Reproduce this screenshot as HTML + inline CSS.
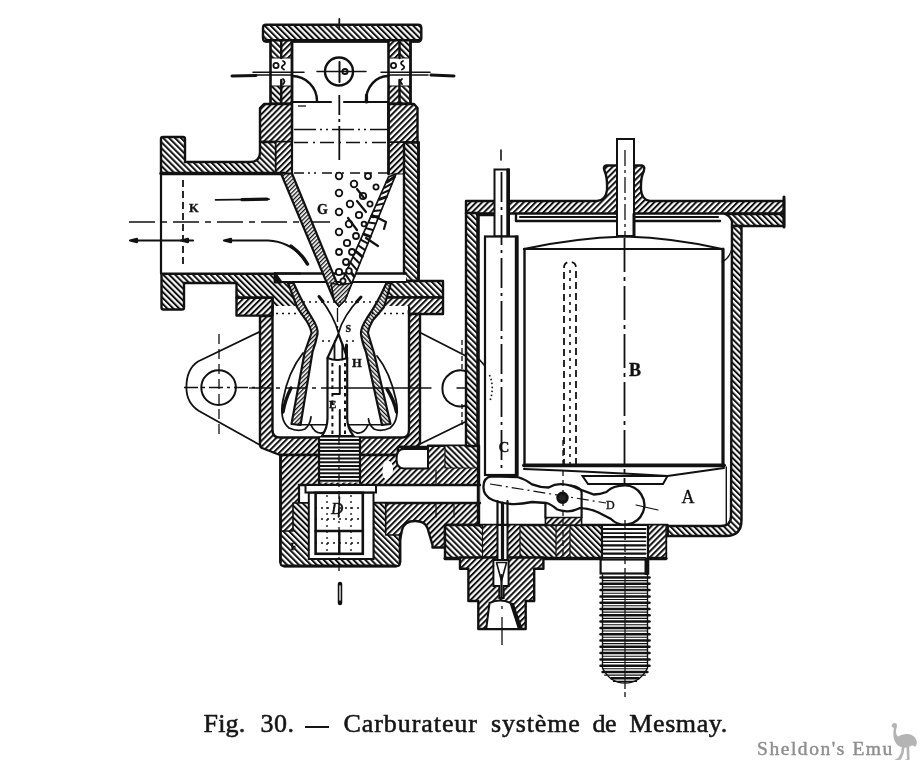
<!DOCTYPE html>
<html><head><meta charset="utf-8"><title>Fig. 30 - Carburateur systeme de Mesmay</title>
<style>
html,body{margin:0;padding:0;background:#fff;}
body{width:920px;height:760px;overflow:hidden;position:relative;font-family:"Liberation Serif",serif;}
svg{position:absolute;left:0;top:0;display:block;will-change:transform}
#cap,#wm{will-change:transform}
.o{stroke:#111;stroke-width:2.2;fill:none;stroke-linejoin:round;stroke-linecap:round}
.t{stroke:#111;stroke-width:1.2;fill:none;stroke-linecap:round}
.k{stroke:#111;stroke-width:2.8;fill:none;stroke-linecap:round;stroke-linejoin:round}
.w{fill:#fff}
.ha{fill:url(#ha);stroke:#111;stroke-width:2.4;stroke-linejoin:round}
.hb{fill:url(#hb);stroke:#111;stroke-width:2.4;stroke-linejoin:round}
.hc{fill:url(#hc);stroke:#111;stroke-width:1.6;stroke-linejoin:round}
.hd{fill:url(#hd);stroke:#111;stroke-width:1.6;stroke-linejoin:round}
.cl{stroke:#111;stroke-width:1.3;fill:none;stroke-dasharray:14 4 2 4}
.ds{stroke:#111;stroke-width:1.3;fill:none;stroke-dasharray:5 3}
.dt{stroke:#111;stroke-width:1.3;fill:none;stroke-dasharray:2 4}
.lb{font-family:"Liberation Serif",serif;font-weight:bold;fill:#111;stroke:#111;stroke-width:0.35px}
#cap{position:absolute;left:0;top:0;font-size:26px;color:#151515;white-space:nowrap}
#cap span{position:absolute;top:709px;line-height:30px;-webkit-text-stroke:0.55px #151515}
#wm{position:absolute;left:757px;top:737px;font-size:19.5px;font-weight:normal;color:#8e8e8e;-webkit-text-stroke:0.45px #8e8e8e;white-space:nowrap;letter-spacing:1.55px;line-height:24px}
</style></head><body>
<svg width="920" height="760" viewBox="0 0 920 760">
<defs>
<pattern id="ha" width="4.2" height="4.2" patternUnits="userSpaceOnUse" patternTransform="rotate(45)"><rect width="4.2" height="4.2" fill="#fff"/><rect width="2" height="4.2" fill="#111"/></pattern>
<pattern id="hb" width="4.2" height="4.2" patternUnits="userSpaceOnUse" patternTransform="rotate(-45)"><rect width="4.2" height="4.2" fill="#fff"/><rect width="2" height="4.2" fill="#111"/></pattern>
<pattern id="hc" width="3" height="3" patternUnits="userSpaceOnUse" patternTransform="rotate(45)"><rect width="3" height="3" fill="#fff"/><rect width="1.3" height="3" fill="#111"/></pattern>
<pattern id="hd" width="3" height="3" patternUnits="userSpaceOnUse" patternTransform="rotate(-45)"><rect width="3" height="3" fill="#fff"/><rect width="1.3" height="3" fill="#111"/></pattern>
</defs>

<path class="hb" d="M266,24.8 H418 Q421.3,24.8 421.3,28 V38 Q421.3,41.5 418,41.5 H266 Q263,41.5 263,38 V28 Q263,24.8 266,24.8 Z" />
<line class="k" x1="266" y1="40.8" x2="419" y2="40.8" style="stroke-width:3.4"/>
<rect class="w" x="270.5" y="41" width="21.5" height="62" />
<rect class="hb" x="270.5" y="41" width="10.75" height="17" style="stroke-width:1.2"/>
<rect class="ha" x="281.25" y="41" width="10.75" height="17" style="stroke-width:1.2"/>
<rect class="hb" x="270.5" y="86" width="10.75" height="17" style="stroke-width:1.2"/>
<rect class="ha" x="281.25" y="86" width="10.75" height="17" style="stroke-width:1.2"/>
<line class="k" x1="270.5" y1="41" x2="270.5" y2="103" style="stroke-width:2.6"/>
<line class="k" x1="292" y1="41" x2="292" y2="103" style="stroke-width:2.8"/>
<line class="k" x1="281.25" y1="41" x2="281.25" y2="58" style="stroke-width:2.4"/>
<line class="k" x1="281.25" y1="80" x2="281.25" y2="103" style="stroke-width:2.4"/>
<rect class="w" x="388.5" y="41" width="22" height="62" />
<rect class="ha" x="388.5" y="41" width="11" height="17" style="stroke-width:1.2"/>
<rect class="hb" x="399.5" y="41" width="11" height="17" style="stroke-width:1.2"/>
<rect class="ha" x="388.5" y="86" width="11" height="17" style="stroke-width:1.2"/>
<rect class="hb" x="399.5" y="86" width="11" height="17" style="stroke-width:1.2"/>
<line class="k" x1="388.5" y1="41" x2="388.5" y2="103" style="stroke-width:2.6"/>
<line class="k" x1="410.5" y1="41" x2="410.5" y2="103" style="stroke-width:2.8"/>
<line class="k" x1="399.5" y1="41" x2="399.5" y2="58" style="stroke-width:2.4"/>
<line class="k" x1="399.5" y1="80" x2="399.5" y2="103" style="stroke-width:2.4"/>
<circle class="o" cx="276" cy="65.5" r="2.6" style="stroke-width:1.8"/>
<circle class="o" cx="393.5" cy="65.5" r="2.6" style="stroke-width:1.8"/>
<path class="o" style="stroke-width:1.8" d="M283,61 q4,2 0,4.5 q-3,2 1,4 M283,79 q3,2 0,5 M403,61 q-4,2 0,4.5 q3,2 -1,4 M402,79 q-3,2 0,5"/>
<circle class="o" cx="339" cy="71.5" r="14" style="stroke-width:2.4"/>
<circle class="o" cx="345" cy="71.5" r="2.6" style="stroke-width:2"/>
<line class="o" x1="339.5" y1="62" x2="339.5" y2="82" style="stroke-width:2"/>
<line class="t" x1="253" y1="72.2" x2="304" y2="72.2" style="stroke-width:1.5"/>
<line class="t" x1="317" y1="71.5" x2="366" y2="71.5" style="stroke-width:1.5"/>
<line class="t" x1="381" y1="72.2" x2="430" y2="72.2" style="stroke-width:1.5"/>
<line class="t" x1="255" y1="75" x2="292" y2="75" style="stroke-width:1.5"/>
<line class="t" x1="389" y1="75" x2="428" y2="75" style="stroke-width:1.5"/>
<line class="k" x1="232" y1="76" x2="256" y2="75.5" style="stroke-width:3"/>
<line class="k" x1="431" y1="75" x2="454" y2="76" style="stroke-width:3"/>
<path class="o" d="M292,76 A25,25 0 0 1 317,101" style="stroke-width:2.4"/>
<path class="o" d="M388.5,76 A22,25 0 0 0 366,101" style="stroke-width:2.4"/>
<path class="k" d="M366.5,95 L366.5,102" style="stroke-width:3.2"/>
<line class="k" x1="292" y1="102" x2="331" y2="102" style="stroke-width:2.2"/>
<line class="k" x1="344" y1="102" x2="388" y2="102" style="stroke-width:2.2"/>
<line class="o" x1="339.3" y1="19" x2="339.3" y2="29" style="stroke-width:1.8"/>
<path class="cl" d="M339.3,95 V164" style="stroke-dasharray:20 4 3 4 34 4;stroke-width:1.8"/>
<polygon class="ha" points="264,104 292,104 292,142 260,142 260,108" />
<path class="hb" d="M260,142 H276 V173.5 H161 V139 Q161,137 163,137 H183 Q185,137 185,139 V162 H250 Q260,162 260,152 Z" />
<polygon class="ha" points="276,142 292,142 292,173.5 276,173.5" style="stroke-width:1.2"/>
<line class="k" x1="161" y1="173.5" x2="285" y2="173.5" style="stroke-width:3.4"/>
<line class="o" x1="292" y1="104" x2="292" y2="174" />
<polygon class="ha" points="388.5,104 414,104 417.5,108 417.5,142.5 388.5,142.5" />
<polygon class="ha" points="388.5,142.5 404,142.5 404,174 388.5,174" style="stroke-width:1.2"/>
<polygon class="hb" points="404,142.5 418.5,142.5 418.5,281 406,281 404,273" />
<line class="k" x1="388.5" y1="104" x2="388.5" y2="174" />
<line class="k" x1="418.5" y1="142.5" x2="418.5" y2="281" />
<line class="ds" x1="298" y1="106" x2="312" y2="106" style="stroke-dasharray:8 60"/>
<line class="cl" x1="294" y1="129.5" x2="387" y2="129.5" style="stroke-dasharray:22 4 2 4 2 4"/>
<line class="cl" x1="294" y1="142.5" x2="387" y2="142.5" style="stroke-dasharray:14 5 2 5"/>
<line class="cl" x1="294" y1="173" x2="392" y2="173" style="stroke-dasharray:10 4 2 4 2 6"/>
<line class="o" x1="161" y1="174.5" x2="161" y2="273.5" />
<line class="ds" x1="183" y1="180" x2="183" y2="268" style="stroke-width:1.8;stroke-dasharray:7 4"/>
<path class="cl" d="M129,222 H330" style="stroke-dasharray:26 6 6 6"/>
<line class="o" x1="215.6" y1="199.8" x2="269" y2="199.2" style="stroke-width:1.8"/>
<line class="k" x1="242" y1="199.6" x2="267" y2="199.2" style="stroke-width:3.2"/>
<line class="o" x1="132" y1="240.5" x2="193" y2="240.5" />
<path class="k" d="M130,240.5 l7,-1.6 v3.2 z M181,240.5 l7,-1.6 v3.2 z" style="stroke-width:2.2"/>
<path class="o" d="M226,240.5 H268 Q294,242 307,264" />
<path class="k" d="M224,240.5 l7,-1.7 v3.4 z" style="stroke-width:2.2"/>
<path class="k" d="M291,246 Q302,254 307.5,264" style="stroke-width:3.4"/>
<text class="lb" x="189" y="211.5" style="font-size:12.5px;font-weight:bold">K</text>
<text class="lb" x="317" y="214" style="font-size:14px;font-weight:bold">G</text>
<path class="hb" d="M161.5,273.8 H300 V307.5 H272.5 V297.8 H236.5 V283 H184 V307.5 Q184,309.5 182,309.5 H163.5 Q161.5,309.5 161.5,307.5 Z" />
<path class="ha" d="M236.5,297.8 H272.5 V315.6 H236.5 Z" />
<path class="hb" d="M380,281 H443 V297.5 H380 Z" />
<path class="ha" d="M380,297.5 H443 V314 H409 V307.5 H380 Z" />
<rect class="w" x="275" y="274.5" width="131" height="7" />
<line class="k" x1="275" y1="273.5" x2="406" y2="273.5" style="stroke-width:2.4"/>
<line class="o" x1="275" y1="282" x2="406" y2="282" />
<path class="k" d="M275,273.5 V282 L281,282 Z" style="fill:#111"/>
<path class="ha" d="M260,316 H272.5 V307.5 H409 V314 H420 V441 Q420,447 414,447 H398 V455 H280 V455 L262,448 Q260,447 260,444 Z  M272.5,307.5 V430 Q272.5,437.5 280,437.5 H402 Q409,437.5 409,430 V307.5 Z" fill-rule="evenodd"/>
<rect class="w" x="274" y="306" width="134" height="4" />
<polygon class="w" points="293,283 387,283 374,307 361,332 317,332 304,307" />
<polygon class="hc" points="281,173.5 292,173.5 338.5,287 339,306 334,300" style="stroke-width:2.2"/>
<polygon class="w" points="396,174 388.5,177 339.5,287 339,306 345,300" style="stroke:#111;stroke-width:1.7"/>
<line class="o" x1="386.953" y1="181.974" x2="394.389" y2="176.979" style="stroke-width:2.8"/>
<line class="o" x1="384.374" y1="187.763" x2="391.705" y2="183.611" style="stroke-width:2"/>
<line class="o" x1="381.795" y1="193.553" x2="389.021" y2="190.242" style="stroke-width:2"/>
<line class="o" x1="379.216" y1="199.342" x2="386.337" y2="196.874" style="stroke-width:2.8"/>
<line class="o" x1="376.637" y1="205.132" x2="383.653" y2="203.505" style="stroke-width:2"/>
<line class="o" x1="374.058" y1="210.921" x2="380.968" y2="210.137" style="stroke-width:2"/>
<line class="o" x1="371.479" y1="216.711" x2="378.284" y2="216.768" style="stroke-width:2.8"/>
<line class="o" x1="368.9" y1="222.5" x2="375.6" y2="223.4" style="stroke-width:2"/>
<line class="o" x1="366.321" y1="228.289" x2="372.916" y2="230.032" style="stroke-width:2"/>
<line class="o" x1="363.742" y1="234.079" x2="370.232" y2="236.663" style="stroke-width:2.8"/>
<line class="o" x1="361.163" y1="239.868" x2="367.547" y2="243.295" style="stroke-width:2"/>
<line class="o" x1="358.584" y1="245.658" x2="364.863" y2="249.926" style="stroke-width:2"/>
<line class="o" x1="356.005" y1="251.447" x2="362.179" y2="256.558" style="stroke-width:2.8"/>
<line class="o" x1="353.426" y1="257.237" x2="359.495" y2="263.189" style="stroke-width:2"/>
<line class="o" x1="350.847" y1="263.026" x2="356.811" y2="269.821" style="stroke-width:2"/>
<line class="o" x1="348.268" y1="268.816" x2="354.126" y2="276.453" style="stroke-width:2.8"/>
<line class="o" x1="345.689" y1="274.605" x2="351.442" y2="283.084" style="stroke-width:2"/>
<line class="o" x1="343.111" y1="280.395" x2="348.758" y2="289.716" style="stroke-width:2"/>
<line class="o" x1="340.532" y1="286.184" x2="346.074" y2="296.347" style="stroke-width:2.8"/>
<polygon class="hc" points="339.5,285 352,283 345,300 339,306 334,300 331,283" style="stroke-width:1.6"/>
<circle class="o" cx="339" cy="176" r="3.3" style="stroke-width:1.8;fill:#fff"/>
<circle class="o" cx="339" cy="193" r="3.3" style="stroke-width:1.8;fill:#fff"/>
<circle class="o" cx="339" cy="212" r="3.3" style="stroke-width:1.8;fill:#fff"/>
<circle class="o" cx="339" cy="232" r="3.3" style="stroke-width:1.8;fill:#fff"/>
<circle class="o" cx="339" cy="252" r="3" style="stroke-width:1.8;fill:#fff"/>
<circle class="o" cx="339" cy="272" r="3.2" style="stroke-width:1.8;fill:#fff"/>
<circle class="o" cx="368" cy="176" r="3" style="stroke-width:1.8;fill:#fff"/>
<circle class="o" cx="354" cy="184" r="3.3" style="stroke-width:1.8;fill:#fff"/>
<circle class="o" cx="376" cy="187" r="2.6" style="stroke-width:1.8;fill:#fff"/>
<circle class="o" cx="363" cy="196" r="3.2" style="stroke-width:1.8;fill:#fff"/>
<circle class="o" cx="350" cy="204" r="3.3" style="stroke-width:1.8;fill:#fff"/>
<circle class="o" cx="370" cy="204" r="2.6" style="stroke-width:1.8;fill:#fff"/>
<circle class="o" cx="359" cy="215" r="3.2" style="stroke-width:1.8;fill:#fff"/>
<circle class="o" cx="349" cy="224" r="3.3" style="stroke-width:1.8;fill:#fff"/>
<circle class="o" cx="364" cy="224" r="2.4" style="stroke-width:1.8;fill:#fff"/>
<circle class="o" cx="356" cy="236" r="3" style="stroke-width:1.8;fill:#fff"/>
<circle class="o" cx="347" cy="243" r="3.2" style="stroke-width:1.8;fill:#fff"/>
<circle class="o" cx="352" cy="252" r="3" style="stroke-width:1.8;fill:#fff"/>
<circle class="o" cx="346" cy="262" r="3" style="stroke-width:1.8;fill:#fff"/>
<circle class="o" cx="343" cy="281" r="2.6" style="stroke-width:1.8;fill:#fff"/>
<circle class="o" cx="349" cy="271" r="2.8" style="stroke-width:1.8;fill:#fff"/>
<path class="o" d="M357,189 L364,198 M357,201 L366,212 M348,218 L357,230 M372,215 L386,222 L384,229 M366,238 L378,246" />
<path class="hc" d="M288,283 L293.5,283 Q303,304 312,318 Q318.5,328 317.5,334 Q316,342 312.5,352 L300.5,425 L291.5,424 L304.5,353 Q309,340 311.5,333 Q311,328 306,320 Q300,312 297,307 Z" style="stroke-width:2.2"/>
<path class="hd" d="M391,283 L386.5,283 Q377,304 367,318 Q360.5,328 361,334 Q362,342 366,352 L382,425 L390.5,424 L374,353 Q370,340 368,333 Q368.5,328 373,320 Q380,312 384,307 Z" style="stroke-width:2.2"/>
<path class="o" d="M303,353 Q288,372 283,400 Q279,420 289,428 Q298,432 305,429 Q310,425 311,417" style="stroke-width:1.8"/>
<path class="o" d="M377,356 Q390,372 396,400 Q400,420 390,428 Q381,432 374,429 Q369,425 368.5,419" style="stroke-width:1.8"/>
<path class="k" d="M291,388 Q285,400 283,412" style="stroke-width:3.4"/>
<path class="k" d="M387,389 Q394,400 396.5,412" style="stroke-width:3.4"/>
<path class="o" d="M311,425 Q315,434 322,433 Q328,431 329,426 M368,425 Q364,434 357,433 Q351,431 349,426" style="stroke-width:1.8"/>
<line class="o" x1="298" y1="424.7" x2="327" y2="424.7" style="stroke-width:1.6"/>
<line class="o" x1="349" y1="424.7" x2="383" y2="424.7" style="stroke-width:1.6"/>
<path class="w" d="M322,436 Q327.5,428 327.5,418 V358 L333,346 L338.5,334 L343,346 L347.2,358 V418 Q347.2,428 353.5,436 Z" style="stroke:#111;stroke-width:2.2"/>
<path class="o" d="M327.5,358 Q337,362 347.2,358" style="stroke-width:2"/>
<path class="o" d="M334.5,344 V359 M342.3,344 V359" style="stroke-width:1.8"/>
<line class="k" x1="346.5" y1="345" x2="346.5" y2="358" style="stroke-width:3"/>
<line class="dt" x1="332.4" y1="363" x2="332.4" y2="434" style="stroke-width:2;stroke-dasharray:3.5 4"/>
<line class="dt" x1="345" y1="363" x2="345" y2="434" style="stroke-width:2;stroke-dasharray:3.5 4"/>
<path class="o" d="M339.8,366 V394 H333" style="stroke-width:2"/>
<line class="o" x1="339.8" y1="410" x2="339.8" y2="436" style="stroke-width:2"/>
<path class="o" d="M320,298 Q334,316 338.5,333 M360,298 Q343,316 338.5,333" style="stroke-width:1.8"/>
<path class="k" d="M319,296.5 l4,5 M361,297 l-4.5,5" style="stroke-width:3"/>
<line class="dt" x1="303" y1="302" x2="377" y2="302" />
<line class="dt" x1="276" y1="313.5" x2="308" y2="313.5" />
<line class="dt" x1="372" y1="313.5" x2="406" y2="313.5" />
<line class="dt" x1="322" y1="341" x2="356" y2="341" />
<path class="cl" d="M337.5,308 V330" />
<path class="cl" d="M184,387.5 H262" style="stroke-dasharray:14 4 3 4"/>
<path class="cl" d="M249,388 H345" style="stroke-dasharray:22 5 4 5"/>
<path class="t" d="M347,388 H431 M457,388 H466 M494,388 H517" style="stroke-width:1.4"/>
<path class="cl" d="M219,334 V436" style="stroke-dasharray:10 5"/>
<path class="o" d="M260,331.6 L198,361.5 Q186.4,369 186.4,387.5 Q186.4,403 199,411 L260,445" style="stroke-width:1.8"/>
<circle class="o" cx="218.6" cy="387.6" r="17.3" style="stroke-width:2"/>
<path class="o" d="M420,332.5 L466,356 M420,444 L466,421.5" style="stroke-width:1.8"/>
<path class="o" d="M466,371.3 A18,18 0 1 0 466,405.5" style="stroke-width:2"/>
<line class="ds" x1="462" y1="340" x2="462" y2="372" />
<line class="ds" x1="462" y1="404" x2="462" y2="428" />
<text class="lb" x="352" y="367" style="font-size:12.5px;font-weight:bold">H</text>
<text class="lb" x="329" y="408" style="font-size:11px;font-weight:bold">E</text>
<text class="lb" x="345.5" y="332" style="font-size:10px;font-weight:bold">S</text>
<path class="ha" d="M280.5,455 H398 V447 H428 V445.7 H479 V525 H445 V547.5 H432.5 V545 L427.5,528 Q425,521 415,521 Q404,521 402,530 L400,540 V562 Q400,566 397,566 H284 Q280.5,566 280.5,562 Z" />
<polygon class="hb" points="445,445.7 479,445.7 479,468 445,468" style="stroke-width:1.2"/>
<rect class="w" x="319" y="437.5" width="41" height="45" />
<line class="o" x1="319" y1="440" x2="360" y2="440" style="stroke-width:2"/>
<line class="o" x1="319" y1="443.7" x2="360" y2="443.7" style="stroke-width:2"/>
<line class="o" x1="319" y1="447.4" x2="360" y2="447.4" style="stroke-width:2"/>
<line class="o" x1="319" y1="451.1" x2="360" y2="451.1" style="stroke-width:2"/>
<line class="o" x1="319" y1="454.8" x2="360" y2="454.8" style="stroke-width:2"/>
<line class="o" x1="319" y1="458.5" x2="360" y2="458.5" style="stroke-width:2"/>
<line class="o" x1="319" y1="462.2" x2="360" y2="462.2" style="stroke-width:2"/>
<line class="o" x1="319" y1="465.9" x2="360" y2="465.9" style="stroke-width:2"/>
<line class="o" x1="319" y1="469.6" x2="360" y2="469.6" style="stroke-width:2"/>
<line class="o" x1="319" y1="473.3" x2="360" y2="473.3" style="stroke-width:2"/>
<line class="o" x1="319" y1="477" x2="360" y2="477" style="stroke-width:2"/>
<line class="o" x1="319" y1="480.7" x2="360" y2="480.7" style="stroke-width:2"/>
<line class="o" x1="319" y1="437.5" x2="319" y2="483" />
<line class="o" x1="360" y1="437.5" x2="360" y2="483" />
<path class="w" d="M404,449 H428 V468.5 H404 Q396.5,468.5 396.5,459 Q396.5,449 404,449 Z" style="stroke:#111;stroke-width:2"/>
<path class="w" d="M384,462 Q390,458 393,466 Q394,476 386,480 Q380,476 384,462 Z" />
<rect class="w" x="299" y="485" width="181" height="18" />
<line class="k" x1="299" y1="485" x2="480" y2="485" style="stroke-width:2.4"/>
<line class="k" x1="372.5" y1="503" x2="480" y2="503" style="stroke-width:2.4"/>
<line class="o" x1="299" y1="485" x2="299" y2="503" />
<line class="o" x1="299" y1="503" x2="307.5" y2="503" />
<rect class="w" x="305.5" y="485" width="70.5" height="7.5" style="stroke:#111;stroke-width:2"/>
<path class="hb" d="M280.5,531 H293 V503 H308.8 V559 H373.5 V503 H385.7 V535 H400 V562 Q400,566 396,566 H284.5 Q280.5,566 280.5,562 Z" style="stroke-width:1.6"/>
<line class="k" x1="280.5" y1="455" x2="280.5" y2="562" style="stroke-width:2.6"/>
<line class="k" x1="284" y1="566" x2="396" y2="566" style="stroke-width:2.8"/>
<line class="k" x1="400" y1="535" x2="400" y2="562" style="stroke-width:2.6"/>
<rect class="w" x="308.8" y="492.8" width="64.7" height="66.2" style="stroke:#111;stroke-width:2"/>
<rect class="w" x="315.6" y="492.8" width="47.2" height="61" style="stroke:#111;stroke-width:2.6"/>
<line class="o" x1="315.6" y1="531" x2="362.8" y2="531" style="stroke-width:2.4"/>
<line class="o" x1="339.3" y1="531" x2="339.3" y2="554" style="stroke-width:2.4"/>
<line class="dt" x1="315" y1="508" x2="364" y2="508" />
<line class="dt" x1="315" y1="519" x2="364" y2="519" />
<line class="dt" x1="315" y1="543" x2="364" y2="543" />
<line class="dt" x1="327" y1="495" x2="327" y2="553" />
<line class="dt" x1="351" y1="495" x2="351" y2="553" />
<path class="cl" d="M339,437 V575" style="stroke-dasharray:8 4 2 4"/>
<line class="k" x1="340" y1="584" x2="340" y2="603" style="stroke-width:4.5"/>
<line class="t" x1="340" y1="586" x2="340" y2="600" style="stroke:#fff;stroke-width:1.3"/>
<text class="lb" x="290.5" y="549.5" style="font-size:10px;font-weight:bold">F</text>
<text class="lb" x="331" y="514" font-style="italic" style="font-weight:normal;font-size:17px">D</text>
<line class="o" x1="339.5" y1="497" x2="338.5" y2="517" style="stroke-width:1.6"/>
<line class="t" x1="436" y1="505" x2="436" y2="517" />
<line class="t" x1="454" y1="505" x2="454" y2="517" />
<line class="t" x1="436" y1="470" x2="436" y2="484" />
<path class="ha" d="M466,201 H597 Q606,200 607,190 Q607.5,178 605,172 Q602.5,166 606,165.5 H642 Q645.5,166 643.5,172 Q640.5,178 641,190 Q642,200 650,201 H784 V213.5 H466 Z" />
<path class="hb" d="M725,214 H784 V226 H741 V226 H732 V221 Q730,216 725,214 Z" />
<path class="hb" d="M466,213 H477.5 V446 H466 Z" />
<path class="hb" d="M732,226 H741.5 V520 Q741.5,536 726,536 H667.5 V526 H721 Q731,526 731,516 Z" />
<path class="hb" d="M445,525 H667.5 V536 H666 V559 H445 Z" />
<rect class="ha" x="482.5" y="525" width="15" height="33" style="stroke-width:1.2"/>
<rect class="ha" x="507.5" y="525" width="12.5" height="33" style="stroke-width:1.2"/>
<rect class="ha" x="556" y="525" width="14" height="33" style="stroke-width:1.2"/>
<rect class="ha" x="648" y="525" width="18" height="33" style="stroke-width:1.2"/>
<line class="k" x1="445" y1="558.3" x2="666" y2="558.3" style="stroke-width:3"/>
<path class="ha" d="M460,557.5 H543.4 V568.7 H534.2 V601 H525.7 V629 H478.3 V601 H468.4 V568.7 H460 Z" />
<path class="w" d="M486.2,629 L489.5,603 Q500,598 510.5,603 L519,629 Z" style="stroke:#111;stroke-width:2"/>
<path class="k" d="M519,629 L511.5,604 L513,603.5 L522,629 Z" style="fill:#111;stroke-width:1.5"/>
<rect class="w" x="497.5" y="525" width="10" height="36" style="stroke:#111;stroke-width:2"/>
<path class="w" d="M493.4,560 H508.6 V586 H503.6 V598 H499.3 V586 H493.4 Z" style="stroke:#111;stroke-width:2"/>
<path class="o" d="M496.5,562.5 L501.5,581 L506.5,562.5 Z" style="stroke-width:1.6"/>
<line class="k" x1="501.5" y1="575" x2="501.5" y2="597" style="stroke-width:2.2"/>
<line class="k" x1="477.5" y1="214.5" x2="494" y2="214.5" style="stroke-width:3.4"/>
<path class="k" d="M516,214 V221 H720" style="stroke-width:2.4"/>
<line class="o" x1="520" y1="217" x2="616" y2="217" />
<line class="o" x1="634" y1="217" x2="718" y2="217" />
<line class="k" x1="478.3" y1="214" x2="478.3" y2="525" style="stroke-width:3"/>
<rect class="w" x="494.5" y="169.5" width="14.5" height="67" style="stroke:#111;stroke-width:2"/>
<line class="k" x1="508" y1="170" x2="508" y2="236" style="stroke-width:3.4"/>
<line class="t" x1="501" y1="150" x2="501" y2="160" style="stroke-width:1.6"/>
<rect class="w" x="485" y="236.5" width="32.5" height="238.5" style="stroke:#111;stroke-width:2.2"/>
<line class="k" x1="516.5" y1="237" x2="516.5" y2="475" style="stroke-width:3.4"/>
<path class="cl" d="M501.5,172 V470" style="stroke-dasharray:30 5 3 5;stroke-width:1.8"/>
<rect class="w" x="617" y="139" width="17" height="97" style="stroke:#111;stroke-width:2"/>
<line class="cl" x1="625" y1="150" x2="625" y2="236" style="stroke-dasharray:16 4 3 4"/>
<line class="k" x1="784" y1="197" x2="784" y2="227" style="stroke-width:3"/>
<line class="k" x1="634" y1="214" x2="634" y2="236" style="stroke-width:3"/>
<path class="w" d="M524,249 Q625,224 722,249 V466 H524 Z" style="stroke:none"/>
<path class="o" d="M524,249 Q574,238 625,236.5 Q675,238 722,249" />
<line class="o" x1="524" y1="249" x2="722" y2="249" />
<line class="k" x1="524.5" y1="249" x2="524.5" y2="466" style="stroke-width:2.4"/>
<line class="k" x1="723" y1="249" x2="723" y2="466" style="stroke-width:3.2"/>
<line class="k" x1="524" y1="465.3" x2="724" y2="465.3" style="stroke-width:3.8"/>
<path class="t" d="M722,262 Q730,258 732,248" />
<line class="t" x1="726.3" y1="467" x2="726.3" y2="525" style="stroke-width:1.4"/>
<path class="dt" d="M489.5,375 Q495,388 489.5,402" style="stroke-width:1.6;stroke-dasharray:1.5 2.5"/>
<line class="t" x1="478" y1="358" x2="485" y2="366" style="stroke-width:1.6"/>
<path class="o" d="M524,469 Q600,472 667.5,476 L724,468" />
<path class="w" d="M582.5,476 H667.5 L663,484 H588 Z" style="stroke:#111;stroke-width:2"/>
<path class="ds" d="M564,466 V268 Q564,262 570,262 Q576,262 576,268 V466" style="stroke-width:1.8;stroke-dasharray:7 4"/>
<line class="dt" x1="570" y1="270" x2="570" y2="466" style="stroke-width:1.6;stroke-dasharray:3 5"/>
<path class="cl" d="M624.5,238 V520" style="stroke-dasharray:34 5 4 5;stroke-width:1.8"/>
<text class="lb" x="629" y="376" style="font-size:18px;font-weight:bold">B</text>
<text class="lb" x="498.5" y="452" style="font-size:15px;font-weight:bold">C</text>
<text class="lb" x="681.5" y="502.5" style="font-size:18px;font-weight:normal">A</text>
<path class="w" d="M483.4,487 Q483.4,477 492,476.3 L517.5,477 Q525,479 532,484.4 Q540,487.5 548.5,487.5 Q555,484 561,484.2 Q570,484.5 577.4,488.5 L594,494.5 Q600,494.5 606.4,492 Q613,485.4 625,485.4 A19.6,19.6 0 1 1 611,519 L598,512.3 Q588,508 579.5,508.2 Q573,511.5 567,511.3 Q561,511 556.8,509.2 Q551,504 546.4,503 L532,502 Q520,504.5 511.3,504 Q500,503 492.7,500 Q483.4,496 483.4,487 Z" style="stroke:#111;stroke-width:2.3"/>
<path class="cl" d="M490,484 L606,503" style="stroke-dasharray:12 4 2 4;stroke-width:1.2"/>
<circle class="k" cx="562.5" cy="497.8" r="4.8" style="fill:#222"/>
<path class="o" d="M545.4,517.5 V503 M581.6,517.5 V492 Q581,487 571,485.5" />
<rect class="ha" x="545.4" y="517.5" width="36.2" height="7.5" style="stroke-width:1.6"/>
<line class="ds" x1="563" y1="440" x2="563" y2="560" style="stroke-dasharray:6 4"/>
<line class="t" x1="636" y1="505" x2="658" y2="510" />
<text class="lb" x="606" y="509" font-size="12" style="font-weight:normal">D</text>
<line class="o" x1="497.5" y1="501" x2="497.5" y2="525" />
<line class="o" x1="507.5" y1="501" x2="507.5" y2="525" />
<line class="k" x1="502.5" y1="503" x2="502.5" y2="559" style="stroke-width:3.2"/>
<line class="cl" x1="502" y1="606" x2="502" y2="645" style="stroke-dasharray:3 8 40 2"/>
<rect class="w" x="602" y="526" width="46" height="33" />
<line class="o" x1="603.5" y1="529" x2="645.5" y2="529" style="stroke-width:2.2"/>
<line class="o" x1="603.5" y1="533.1" x2="645.5" y2="533.1" style="stroke-width:1.6"/>
<line class="o" x1="603.5" y1="537.2" x2="645.5" y2="537.2" style="stroke-width:2.2"/>
<line class="o" x1="603.5" y1="541.3" x2="645.5" y2="541.3" style="stroke-width:1.6"/>
<line class="o" x1="603.5" y1="545.4" x2="645.5" y2="545.4" style="stroke-width:2.2"/>
<line class="o" x1="603.5" y1="549.5" x2="645.5" y2="549.5" style="stroke-width:1.6"/>
<line class="o" x1="603.5" y1="553.6" x2="645.5" y2="553.6" style="stroke-width:2.2"/>
<line class="o" x1="603.5" y1="557.7" x2="645.5" y2="557.7" style="stroke-width:1.6"/>
<line class="o" x1="602" y1="526" x2="602" y2="559" />
<line class="o" x1="648" y1="526" x2="648" y2="559" />
<rect class="w" x="600.6" y="559.5" width="47.6" height="14" style="stroke:#111;stroke-width:2.2"/>
<line class="k" x1="646.5" y1="559.5" x2="646.5" y2="574" style="stroke-width:4"/>
<path class="w" d="M601,575 H649 V668 Q640,683 625,683 Q610,683 601,668 Z" />
<line class="o" x1="600.5" y1="577.5" x2="649.5" y2="577.5" style="stroke-width:2.5"/>
<line class="t" x1="602.5" y1="580.6" x2="647.5" y2="580.6" style="stroke-width:1.1"/>
<line class="o" x1="600.5" y1="583.8" x2="649.5" y2="583.8" style="stroke-width:2.5"/>
<line class="t" x1="602.5" y1="586.9" x2="647.5" y2="586.9" style="stroke-width:1.1"/>
<line class="o" x1="600.5" y1="590.1" x2="649.5" y2="590.1" style="stroke-width:2.5"/>
<line class="t" x1="602.5" y1="593.2" x2="647.5" y2="593.2" style="stroke-width:1.1"/>
<line class="o" x1="600.5" y1="596.4" x2="649.5" y2="596.4" style="stroke-width:2.5"/>
<line class="t" x1="602.5" y1="599.5" x2="647.5" y2="599.5" style="stroke-width:1.1"/>
<line class="o" x1="600.5" y1="602.7" x2="649.5" y2="602.7" style="stroke-width:2.5"/>
<line class="t" x1="602.5" y1="605.8" x2="647.5" y2="605.8" style="stroke-width:1.1"/>
<line class="o" x1="600.5" y1="609" x2="649.5" y2="609" style="stroke-width:2.5"/>
<line class="t" x1="602.5" y1="612.1" x2="647.5" y2="612.1" style="stroke-width:1.1"/>
<line class="o" x1="600.5" y1="615.3" x2="649.5" y2="615.3" style="stroke-width:2.5"/>
<line class="t" x1="602.5" y1="618.4" x2="647.5" y2="618.4" style="stroke-width:1.1"/>
<line class="o" x1="600.5" y1="621.6" x2="649.5" y2="621.6" style="stroke-width:2.5"/>
<line class="t" x1="602.5" y1="624.7" x2="647.5" y2="624.7" style="stroke-width:1.1"/>
<line class="o" x1="600.5" y1="627.9" x2="649.5" y2="627.9" style="stroke-width:2.5"/>
<line class="t" x1="602.5" y1="631" x2="647.5" y2="631" style="stroke-width:1.1"/>
<line class="o" x1="600.5" y1="634.2" x2="649.5" y2="634.2" style="stroke-width:2.5"/>
<line class="t" x1="602.5" y1="637.3" x2="647.5" y2="637.3" style="stroke-width:1.1"/>
<line class="o" x1="600.5" y1="640.5" x2="649.5" y2="640.5" style="stroke-width:2.5"/>
<line class="t" x1="602.5" y1="643.6" x2="647.5" y2="643.6" style="stroke-width:1.1"/>
<line class="o" x1="600.5" y1="646.8" x2="649.5" y2="646.8" style="stroke-width:2.5"/>
<line class="t" x1="602.5" y1="649.9" x2="647.5" y2="649.9" style="stroke-width:1.1"/>
<line class="o" x1="600.5" y1="653.1" x2="649.5" y2="653.1" style="stroke-width:2.5"/>
<line class="t" x1="602.5" y1="656.2" x2="647.5" y2="656.2" style="stroke-width:1.1"/>
<line class="o" x1="600.5" y1="659.4" x2="649.5" y2="659.4" style="stroke-width:2.5"/>
<line class="t" x1="602.5" y1="662.5" x2="647.5" y2="662.5" style="stroke-width:1.1"/>
<line class="o" x1="600.5" y1="665.7" x2="649.5" y2="665.7" style="stroke-width:2.5"/>
<line class="t" x1="602.5" y1="668.8" x2="647.5" y2="668.8" style="stroke-width:1.1"/>
<line class="o" x1="602.564" y1="672" x2="647.436" y2="672" style="stroke-width:2.5"/>
<line class="t" x1="604.564" y1="675.1" x2="645.436" y2="675.1" style="stroke-width:1.1"/>
<line class="o" x1="611.373" y1="678.3" x2="638.627" y2="678.3" style="stroke-width:2.5"/>
<line class="t" x1="613.373" y1="681.4" x2="636.627" y2="681.4" style="stroke-width:1.1"/>
<path class="o" d="M602.5,575 V668 Q610,683 625,683 Q640,683 647.5,668 V575" style="stroke-width:1.4"/>
<line class="cl" x1="625" y1="520" x2="625" y2="573" style="stroke-dasharray:8 4"/>
<line class="o" x1="625" y1="575" x2="625" y2="683" style="stroke-width:1.2"/>
<line class="cl" x1="625" y1="684" x2="625" y2="698" style="stroke-dasharray:5 3"/>
</svg>
<div id="cap"><span style="left:203.5px;letter-spacing:0.2px">Fig.</span><span style="left:260.4px;letter-spacing:0.5px">30.</span><span style="left:343.5px;letter-spacing:0.93px">Carburateur</span><span style="left:490.9px;letter-spacing:0.87px">système</span><span style="left:592.5px;letter-spacing:-0.4px">de</span><span style="left:629.3px;letter-spacing:0.6px">Mesmay.</span></div>
<div style="position:absolute;left:304.5px;top:725.6px;width:24.5px;height:2.6px;background:#151515"></div>
<div id="wm">Sheldon's Emu</div>
<svg width="40" height="42" viewBox="0 0 40 42" style="left:884px;top:720px">
<g fill="#b4b4b4" stroke="none">
<path d="M7.5,6.5 Q8,3 10.5,3 Q13.2,3.2 13,6 Q12.6,8 12,10 Q11.5,14 14,16.5 Q18,13.5 24,14 Q31,15 32.5,20.5 Q33.5,24 31,27 Q29,24.5 26,26.5 Q22,28.5 17,27 Q11,25 9.5,17 Q9,12 9.8,8 Q9,7.2 7.5,6.5 Z"/>
<path d="M18,26 L17,33 L14,38.2 L11,39.2 L11.5,40.2 L17,39.8 L19.6,33.5 L20.5,27 Z"/>
<path d="M22.5,27 L23,39 L21,39.8 L21,40.6 L25.6,40.4 L25.2,27 Z"/>
</g></svg>
</body></html>
